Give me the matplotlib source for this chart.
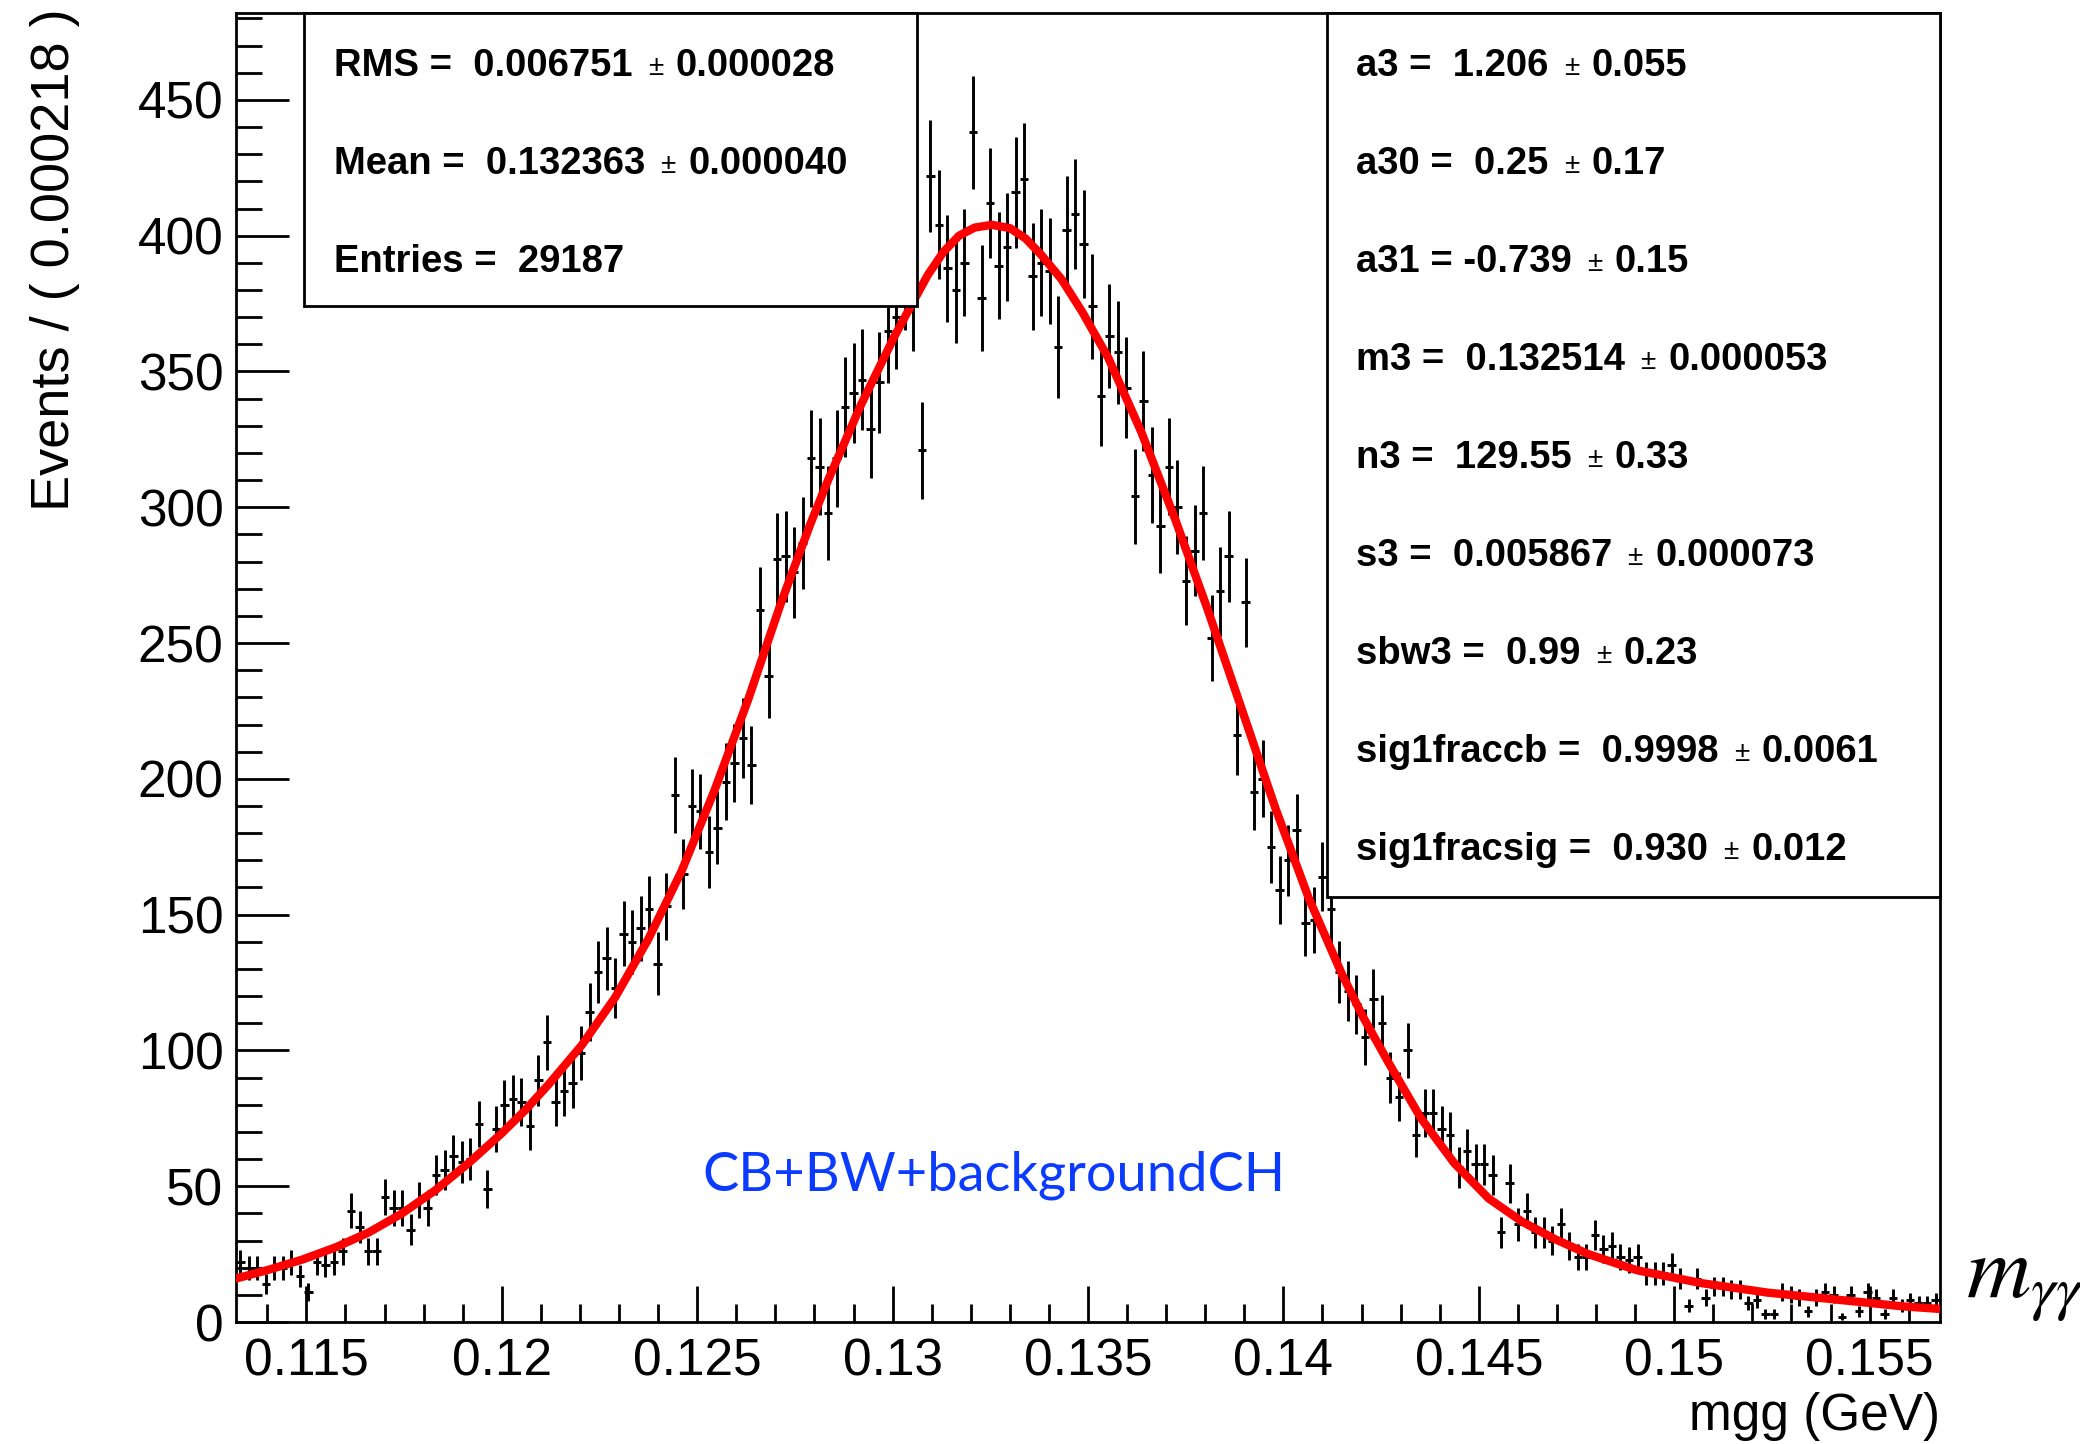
import matplotlib
matplotlib.use("Agg")
import matplotlib.pyplot as plt
from matplotlib.patches import Rectangle
from matplotlib.text import Annotation
from matplotlib.ticker import MultipleLocator, FuncFormatter
import numpy as np

# binning of the histogram
x_lo = 0.1132
x_hi = 0.1568
n_bins = 200

# events per bin
counts = [
    22, 20, 20, 14, 20, 20, 22, 17, 11, 22,
    21, 22, 26, 41, 35, 26, 26, 46, 42, 42,
    34, 45, 42, 54, 56, 61, 59, 60, 73, 49,
    71, 80, 82, 81, 72, 89, 103, 81, 85, 88,
    99, 114, 129, 134, 123, 143, 140, 145, 152, 132,
    153, 194, 165, 190, 188, 173, 182, 199, 206, 215,
    205, 262, 238, 281, 282, 276, 287, 318, 315, 298,
    318, 337, 342, 347, 329, 346, 365, 370, 385, 377,
    321, 422, 404, 388, 380, 390, 438, 377, 412, 389,
    396, 416, 421, 385, 390, 387, 359, 402, 408, 397,
    374, 341, 363, 357, 344, 304, 339, 312, 293, 315,
    300, 273, 284, 298, 252, 269, 282, 216, 265, 195,
    200, 175, 159, 170, 181, 147, 148, 164, 152, 129,
    122, 117, 105, 119, 110, 90, 83, 100, 69, 77,
    77, 71, 69, 57, 63, 58, 58, 54, 33, 51,
    36, 41, 33, 33, 30, 36, 28, 24, 24, 32,
    27, 28, 24, 23, 24, 18, 18, 18, 21, 16,
    6, 16, 9, 13, 13, 12, 12, 7, 8, 3,
    3, 11, 10, 9, 4, 9, 11, 10, 2, 10,
    4, 11, 9, 3, 9, 6, 8, 7, 7, 8,
]

# fitted curve, points
fit_x = [0.1132, 0.11405, 0.1149, 0.11575, 0.1166, 0.11745, 0.1183, 0.11915,
         0.1200, 0.1206, 0.1212, 0.12205, 0.1229, 0.12375, 0.1246, 0.12545,
         0.1263, 0.12715, 0.1279, 0.12835, 0.1292, 0.13005, 0.1305, 0.1309,
         0.1313, 0.1317, 0.1321, 0.13254, 0.1330, 0.1334, 0.1338, 0.13432,
         0.13485, 0.13552, 0.13637, 0.13722, 0.13807, 0.13895, 0.1398, 0.14065,
         0.1415, 0.14205, 0.14267, 0.14352, 0.14437, 0.14525, 0.1461, 0.14695,
         0.1478, 0.14906, 0.1507, 0.1524, 0.15412, 0.15582, 0.1568]
fit_y = [16, 19.3, 23, 27.5, 33, 40, 48.5, 58.5,
         69.5, 78, 87.5, 102, 119.5, 141, 166, 196,
         229, 265, 294, 310, 338, 363, 375, 385.5,
         394, 400, 403, 404, 402.8, 399, 393, 384,
         372, 355, 327.5, 296, 262, 225, 189, 156,
         128, 112, 96, 75, 58.5, 45.5, 37, 30.5,
         25, 19, 14.3, 10.8, 8.3, 5.8, 4.8]

stats_box = [("RMS", "0.006751", "0.000028"),
             ("Mean", "0.132363", "0.000040"),
             ("Entries", "29187", None)]
param_box = [("a3", "1.206", "0.055"),
             ("a30", "0.25", "0.17"),
             ("a31", "-0.739", "0.15"),
             ("m3", "0.132514", "0.000053"),
             ("n3", "129.55", "0.33"),
             ("s3", "0.005867", "0.000073"),
             ("sbw3", "0.99", "0.23"),
             ("sig1fraccb", "0.9998", "0.0061"),
             ("sig1fracsig", "0.930", "0.012")]

W, H = 2080, 1444
fig = plt.figure(figsize=(W / 100, H / 100), dpi=100)
ax = fig.add_axes([236 / W, 1 - 1322 / H, (1940 - 236) / W, (1322 - 13) / H])

edges = np.linspace(x_lo, x_hi, n_bins + 1)
centers = 0.5 * (edges[:-1] + edges[1:])
half_w = 0.5 * (edges[1] - edges[0])
counts = np.array(counts, dtype=float)

ax.errorbar(centers, counts, yerr=np.sqrt(counts), xerr=half_w, fmt="none",
            ecolor="black", elinewidth=2.1, capsize=0, zorder=2)
ax.plot(fit_x, fit_y, color="red", lw=6, solid_joinstyle="round", zorder=3)

ax.set_xlim(x_lo, x_hi)
ax.set_ylim(0, 482)

ax.xaxis.set_major_locator(MultipleLocator(0.005))
ax.xaxis.set_minor_locator(MultipleLocator(0.001))
ax.yaxis.set_major_locator(MultipleLocator(50))
ax.yaxis.set_minor_locator(MultipleLocator(10))
ax.xaxis.set_major_formatter(FuncFormatter(lambda v, p: "%g" % round(v, 4)))
ax.tick_params(axis="x", which="major", direction="in", length=26, width=2, pad=11)
ax.tick_params(axis="x", which="minor", direction="in", length=13, width=2)
ax.tick_params(axis="y", which="major", direction="in", length=38, width=2, pad=9)
ax.tick_params(axis="y", which="minor", direction="in", length=19, width=2)
for lab in ax.get_xticklabels() + ax.get_yticklabels():
    lab.set_fontfamily("Liberation Sans")
    lab.set_fontsize(37)
for s in ax.spines.values():
    s.set_linewidth(2)

fig.text(55 / W, 1 - 8 / H, "Events / ( 0.000218 )", rotation=90,
         ha="center", va="top", family="Liberation Sans", fontsize=39)
fig.text(1940 / W, 1 - 1430 / H, "mgg (GeV)", ha="right", va="baseline",
         family="Liberation Sans", fontsize=37)

plt.rcParams["mathtext.fontset"] = "stix"
fig.text(1966 / W, 1 - 1298 / H, r"$m_{\gamma\gamma}$", fontsize=64,
         ha="left", va="baseline")

fig.text(994 / W, 1 - 1191 / H, "CB+BW+backgroundCH", color="#0a3bff",
         family=["Lato", "Liberation Sans"], fontsize=39,
         ha="center", va="baseline")


def draw_box(x0, y0, x1, y1):
    r = Rectangle((x0 / W, 1 - y1 / H), (x1 - x0) / W, (y1 - y0) / H,
                  transform=fig.transFigure, facecolor="white",
                  edgecolor="black", lw=2, zorder=5)
    fig.patches.append(r)


def draw_line(x, y, name, val, err):
    sep = "" if val.startswith("-") else " "
    t = fig.text(x / W, 1 - y / H, "%s =%s %s" % (name, sep, val),
                 family="Liberation Sans", weight="bold", fontsize=27.5,
                 ha="left", va="baseline", zorder=6)
    if err is None:
        return
    pm = fig.add_artist(Annotation(
        "\u00b1", xy=(1, 0), xycoords=t, xytext=(11, 2), textcoords="offset points",
        family="Liberation Sans", fontsize=20, ha="left", va="bottom", zorder=6))
    fig.add_artist(Annotation(
        err, xy=(1, 0), xycoords=pm, xytext=(9, -2), textcoords="offset points",
        family="Liberation Sans", weight="bold", fontsize=27.5,
        ha="left", va="bottom", zorder=6))


draw_box(304, 13, 917, 306)
for i, (n, v, e) in enumerate(stats_box):
    draw_line(334, 76 + i * 98, n, v, e)

draw_box(1327, 13, 1940, 897)
for i, (n, v, e) in enumerate(param_box):
    draw_line(1356, 76 + i * 98, n, v, e)

fig.savefig("out.png", dpi=100)
